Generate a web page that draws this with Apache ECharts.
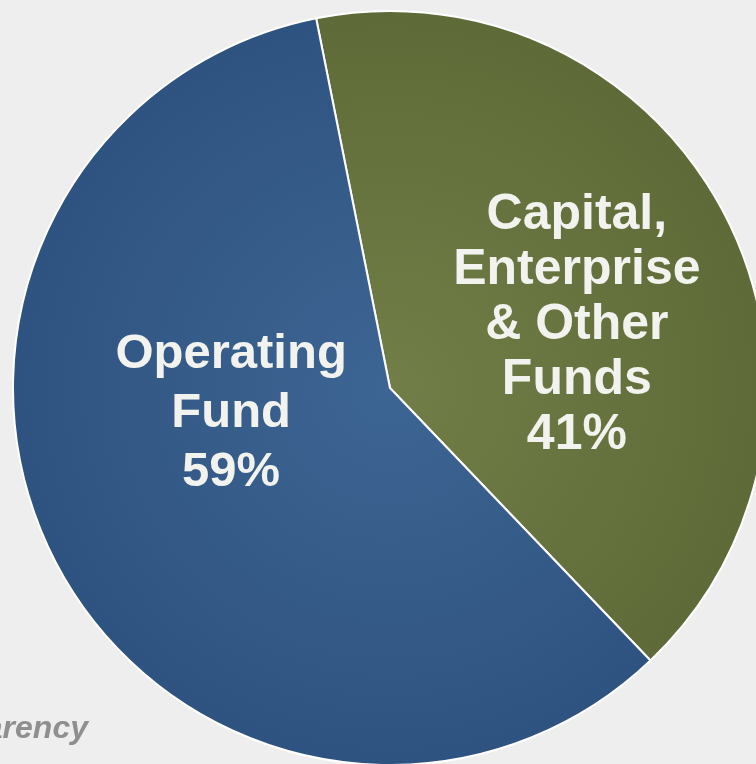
<!DOCTYPE html>
<html>
<head>
<meta charset="utf-8">
<style>
  html, body { margin: 0; padding: 0; background: #eeeeee; }
  #chart { width: 756px; height: 764px; }
</style>
<script src="https://cdn.jsdelivr.net/npm/echarts@6/dist/echarts.min.js"></script>
</head>
<body>
<div id="chart"></div>
<script>
// Fund shares (percent of total)
const categories = ['Capital,\nEnterprise\n& Other\nFunds', 'Operating\nFund'];
const shares = [41, 59];
const sliceColors = [
  ['#717e47', '#5e6b38'],
  ['#3d6593', '#2f5380']
];
const footerText = 'Transparency';

const CENTER = [390, 388];
const RADIUS = 377;

const chart = echarts.init(document.getElementById('chart'), null, { renderer: 'canvas' });

function radial(c) {
  return {
    type: 'radial', x: CENTER[0], y: CENTER[1], r: RADIUS, global: true,
    colorStops: [{ offset: 0, color: c[0] }, { offset: 1, color: c[1] }]
  };
}

// label nudges from the default inside-anchor, and per-slice type size
const labelShift = [[17, 26], [11, -63]];
const labelSize = [[50, 55], [49, 59]];

chart.setOption({
  backgroundColor: '#eeeeee',
  animation: false,
  series: [{
    type: 'pie',
    center: CENTER,
    radius: [0, RADIUS],
    startAngle: 101.3,
    clockwise: true,
    silent: true,
    itemStyle: { borderColor: '#ffffff', borderWidth: 2 },
    label: {
      show: true,
      position: 'inside',
      color: '#f2f2ee',
      fontFamily: '"Liberation Sans", Arial, sans-serif',
      fontWeight: 'bold',
      align: 'center',
      verticalAlign: 'middle',
      formatter: p => p.name + '\n' + p.value + '%'
    },
    labelLayout: p => ({ dx: labelShift[p.dataIndex][0], dy: labelShift[p.dataIndex][1] }),
    labelLine: { show: false },
    data: categories.map((name, i) => ({
      name: name,
      value: shares[i],
      itemStyle: { color: radial(sliceColors[i]) },
      label: { fontSize: labelSize[i][0], lineHeight: labelSize[i][1] }
    }))
  }],
  graphic: [{
    type: 'text',
    right: 756 - 88,
    top: 713,
    style: {
      text: footerText,
      fill: '#8f8f8f',
      font: 'italic bold 32px "Liberation Sans", Arial, sans-serif',
      textAlign: 'right'
    }
  }]
});
</script>
</body>
</html>
